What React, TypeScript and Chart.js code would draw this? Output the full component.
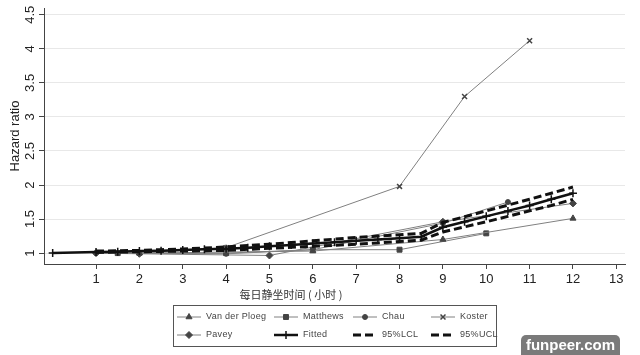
import { useEffect, useRef } from "react";
import { Chart, registerables } from "chart.js";
import { drawPoint } from "chart.js/helpers";

Chart.register(...registerables);

// ---- data ----
const vdpX = [2, 6, 9, 12];
const vdpY = [1.0, 1.03, 1.2, 1.51];

const matthewsX = [1.5, 4, 6, 8, 10];
const matthewsY = [1.0, 1.0, 1.05, 1.05, 1.29];

const chauX = [1, 4, 6, 9, 10.5];
const chauY = [1.0, 0.99, 1.05, 1.44, 1.75];

const kosterX = [2, 4, 8, 9.5, 11];
const kosterY = [1.0, 1.08, 1.98, 3.3, 4.12];

const paveyX = [1, 2, 5, 9, 12];
const paveyY = [1.0, 0.99, 0.965, 1.46, 1.73];

const fitX = [0, 1, 1.5, 2, 2.5, 3, 3.5, 4, 4.5, 5, 5.5, 6, 6.5, 7, 7.5, 8, 8.5, 9, 9.5, 10, 10.5, 11, 11.5, 12];
const fitY = [1.0, 1.015, 1.02, 1.03, 1.035, 1.045, 1.055, 1.065, 1.08, 1.1, 1.12, 1.14, 1.16, 1.18, 1.2, 1.22, 1.24, 1.38, 1.46, 1.54, 1.62, 1.7, 1.79, 1.88];

const ciX = [1, 1.5, 2, 2.5, 3, 3.5, 4, 4.5, 5, 5.5, 6, 6.5, 7, 7.5, 8, 8.5, 9, 9.5, 10, 10.5, 11, 11.5, 12];
const lclY = [1.01, 1.015, 1.02, 1.025, 1.03, 1.035, 1.04, 1.055, 1.07, 1.085, 1.1, 1.115, 1.13, 1.15, 1.17, 1.19, 1.31, 1.385, 1.46, 1.54, 1.62, 1.7, 1.79];
const uclY = [1.03, 1.035, 1.04, 1.05, 1.06, 1.075, 1.09, 1.11, 1.13, 1.155, 1.18, 1.205, 1.23, 1.25, 1.27, 1.29, 1.45, 1.535, 1.62, 1.705, 1.79, 1.88, 1.97];

const xTicks = [1, 2, 3, 4, 5, 6, 7, 8, 9, 10, 11, 12, 13];
const yTicks = [1, 1.5, 2, 2.5, 3, 3.5, 4, 4.5];

const seriesNames = ["Van der Ploeg", "Matthews", "Chau", "Koster", "Pavey", "Fitted", "95%LCL", "95%UCL"];
const xTitle = "每日静坐时间 ( 小时 )";
const yTitle = "Hazard ratio";

const zip = (xs: number[], ys: number[]) => xs.map((x, i) => ({ x, y: ys[i] }));

const legendColX = [177, 274, 353, 431];
const legendRowY = [317, 335];

const bottomPlugin = {
  id: "bottomStuff",
  afterDraw(chart: any) {
    const ctx: CanvasRenderingContext2D = chart.ctx;
    ctx.save();
    // x title
    ctx.font = '11px "Noto Sans CJK SC"';
    ctx.fillStyle = "#333";
    ctx.textAlign = "center";
    ctx.textBaseline = "middle";
    ctx.fillText(xTitle, 291, 295);
    // legend box
    ctx.strokeStyle = "#555";
    ctx.lineWidth = 1;
    ctx.strokeRect(173.5, 305.5, 323, 41);
    chart.data.datasets.forEach((ds: any, i: number) => {
      const col = i % 4;
      const row = Math.floor(i / 4);
      const x0 = legendColX[col];
      const y = legendRowY[row];
      ctx.save();
      ctx.setLineDash(ds.borderDash || []);
      ctx.lineWidth = ds.borderWidth;
      ctx.strokeStyle = ds.borderColor;
      ctx.beginPath();
      ctx.moveTo(x0, y);
      ctx.lineTo(x0 + 24, y);
      ctx.stroke();
      ctx.setLineDash([]);
      if (ds.pointRadius > 0) {
        ctx.fillStyle = ds.pointBackgroundColor;
        ctx.strokeStyle = ds.pointBorderColor;
        ctx.lineWidth = ds.pointBorderWidth;
        drawPoint(ctx, { pointStyle: ds.pointStyle, rotation: 0, radius: ds.pointRadius, borderWidth: ds.pointBorderWidth } as any, x0 + 12, y);
      }
      ctx.restore();
      ctx.font = '9px "Liberation Sans"';
      (ctx as any).letterSpacing = "0.3px";
      ctx.fillStyle = "#444";
      ctx.textAlign = "left";
      ctx.textBaseline = "middle";
      ctx.fillText(ds.label, x0 + 29, y);
    });
    ctx.restore();
  },
};

const study = (label: string, xs: number[], ys: number[], style: string, r: number) => ({
  label,
  data: zip(xs, ys),
  borderColor: "#808080",
  borderWidth: 1,
  pointStyle: style,
  pointRadius: r,
  pointBackgroundColor: "#444",
  pointBorderColor: "#444",
  pointBorderWidth: style === "crossRot" ? 1.5 : 1,
  showLine: true,
  order: 2,
});

export default function App() {
  const ref = useRef<HTMLCanvasElement | null>(null);
  useEffect(() => {
    document.body.style.margin = "0";
    if (!ref.current) return;
    const chart = new Chart(ref.current, {
      type: "scatter",
      data: {
        datasets: [
          study(seriesNames[0], vdpX, vdpY, "triangle", 3.5),
          study(seriesNames[1], matthewsX, matthewsY, "rect", 3.5),
          study(seriesNames[2], chauX, chauY, "circle", 2.5),
          study(seriesNames[3], kosterX, kosterY, "crossRot", 3.5),
          study(seriesNames[4], paveyX, paveyY, "rectRot", 3.5),
          {
            label: seriesNames[5],
            data: zip(fitX, fitY),
            borderColor: "#111",
            borderWidth: 2.5,
            pointStyle: "cross",
            pointRadius: 4,
            pointBackgroundColor: "#111",
            pointBorderColor: "#111",
            pointBorderWidth: 1.5,
            showLine: true,
            order: 0,
          },
          {
            label: seriesNames[6],
            data: zip(ciX, lclY),
            borderColor: "#111",
            borderWidth: 3,
            borderDash: [8, 4],
            pointRadius: 0,
            showLine: true,
            order: 1,
          },
          {
            label: seriesNames[7],
            data: zip(ciX, uclY),
            borderColor: "#111",
            borderWidth: 3,
            borderDash: [8, 4],
            pointRadius: 0,
            showLine: true,
            order: 1,
          },
        ] as any,
      },
      options: {
        animation: false,
        responsive: false,
        layout: { padding: { left: 0, right: 15, top: 8, bottom: 0 } },
        plugins: { legend: { display: false }, tooltip: { enabled: false } },
        scales: {
          x: {
            type: "linear",
            min: -0.2,
            max: 13.2,
            afterBuildTicks: (s: any) => {
              s.ticks = xTicks.map((v) => ({ value: v }));
            },
            afterFit: (s: any) => {
              s.height = 91;
            },
            grid: { drawOnChartArea: false, tickColor: "#444", tickLength: 5 },
            border: { color: "#444", width: 1 },
            ticks: {
              font: { family: "Liberation Sans", size: 13 },
              color: "#222",
              padding: 3,
              maxRotation: 0,
              autoSkip: false,
            },
          },
          y: {
            type: "linear",
            min: 0.84,
            max: 4.6,
            afterBuildTicks: (s: any) => {
              s.ticks = yTicks.map((v) => ({ value: v }));
            },
            afterFit: (s: any) => {
              s.width = 44;
            },
            grid: { color: "#e8e8e8", tickColor: "#444", tickLength: 5 },
            border: { color: "#444", width: 1 },
            ticks: {
              font: { family: "Liberation Sans", size: 13 },
              color: "#222",
              padding: 0,
              minRotation: 90,
              maxRotation: 90,
              crossAlign: "center",
              callback: (v: any) => String(v),
            },
            title: {
              display: true,
              text: yTitle,
              font: { family: "Liberation Sans", size: 13 },
              color: "#222",
              padding: { top: 8, bottom: 0 },
            },
          },
        },
      },
      plugins: [bottomPlugin],
    } as any);
    return () => chart.destroy();
  }, []);
  return (
    <div style={{ position: "relative", width: 640, height: 355, background: "#fff" }}>
      <canvas ref={ref} width={640} height={355} />
      <div
        style={{
          position: "absolute",
          left: 521,
          top: 335,
          width: 99,
          height: 20,
          background: "#7a7a7a",
          borderRadius: "5px 5px 0 0",
          color: "#fff",
          font: 'bold 15px "Liberation Sans"',
          lineHeight: "20px",
          textAlign: "center",
        }}
      >
        funpeer.com
      </div>
    </div>
  );
}
